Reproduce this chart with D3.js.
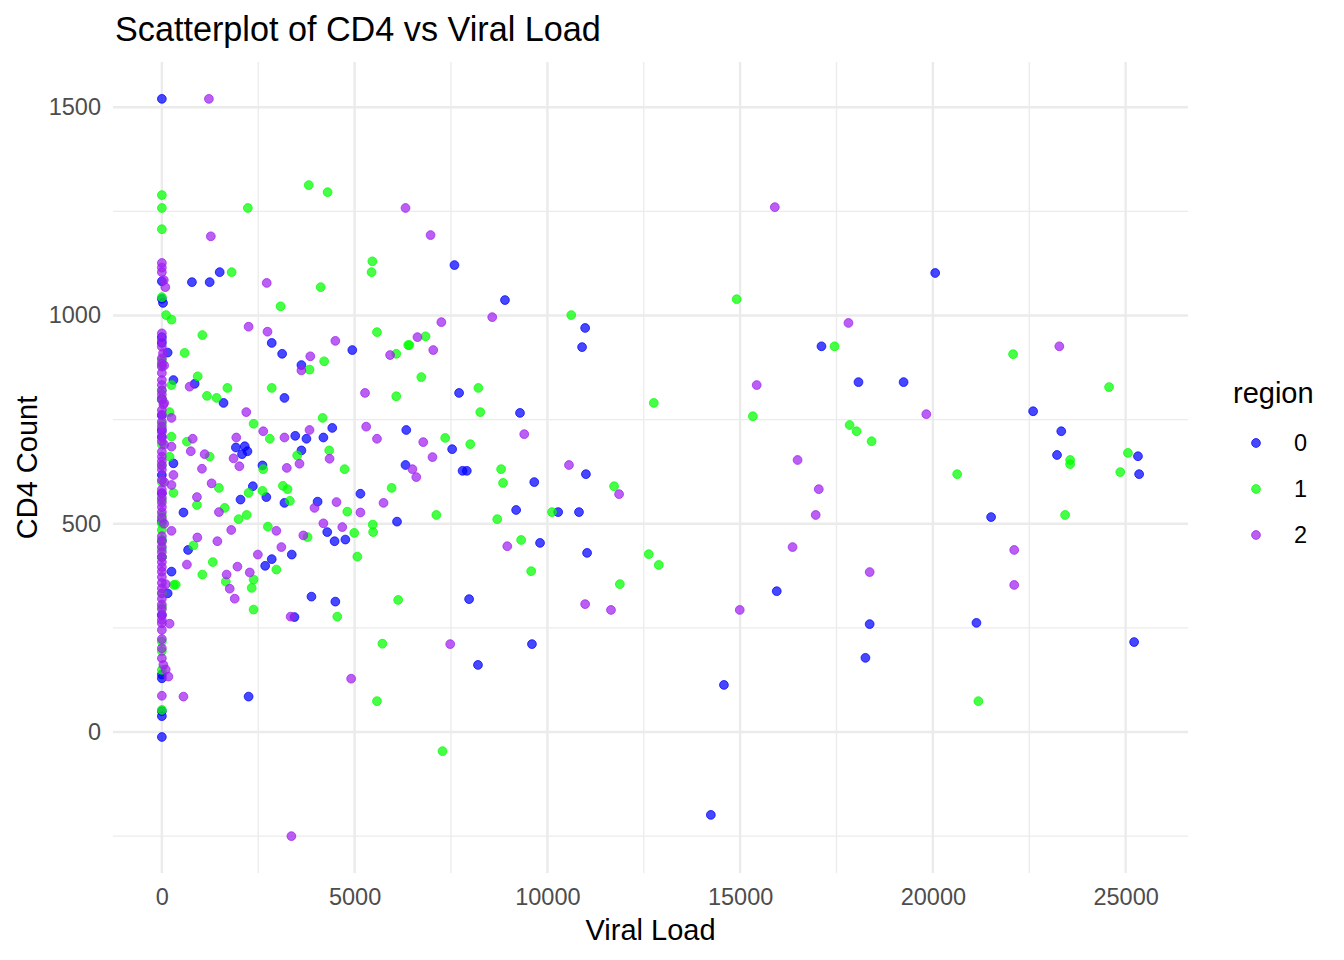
<!DOCTYPE html>
<html>
<head>
<meta charset="utf-8">
<script src="https://cdn.jsdelivr.net/npm/d3@7"></script>
<style>
body { margin: 0; background: #fff; }
text { font-family: "Liberation Sans", Arial, sans-serif; }
</style>
</head>
<body>
<svg id="chart" width="1344" height="960"></svg>
<script>
// legend / colours
var regions = ["0", "1", "2"];
var regionColors = ["#0000FF", "#00FF00", "#A020F0"];

// axis breaks
var xTicks = [0, 5000, 10000, 15000, 20000, 25000];
var yTicks = [0, 500, 1000, 1500];
var xMinor = [2500, 7500, 12500, 17500, 22500];
var yMinor = [-250, 250, 750, 1250];

// [viral load, cd4 count]
var region0 = [
  [0,1520],[0,1082],[0,1040],[30,1030],[0,948],[0,934],[150,911],[300,845],[0,800],[0,760],
  [0,725],[0,708],[300,645],[0,617],[0,573],[0,505],[0,460],[0,420],[250,385],[150,333],
  [0,280],[0,138],[0,129],[0,50],[0,38],[0,-12],
  [780,1080],[1240,1080],[1500,1104],[7590,1121],[8900,1037],[10980,970],[10900,924],[7710,814],
  [9290,766],[6340,725],[7530,679],[6320,641],[7800,627],[7910,627],[11000,619],[9660,600],
  [9190,533],[10280,528],[10820,528],[9810,454],[11030,430],[7970,319],[9600,211],[8200,161],
  [2850,934],[3120,908],[4940,917],[3620,881],[850,836],[1600,790],[3180,802],[3460,711],
  [3750,704],[4190,707],[4420,730],[1920,683],[2150,686],[2220,674],[2080,667],[3620,676],
  [2610,640],[2360,590],[2710,564],[2040,558],[3180,550],[4040,553],[5150,572],[560,527],
  [6100,505],[4290,480],[4480,458],[4760,462],[680,437],[2850,415],[2680,399],[3370,426],
  [3880,325],[4500,313],[3440,276],[2250,85],
  [20060,1102],[17110,926],[18070,840],[19240,840],[22600,770],[23330,722],[23220,665],
  [25320,662],[25350,619],[21510,516],[15950,338],[18360,259],[21130,262],[25220,216],
  [18250,178],[14580,113],[14240,-199]
];

var region1 = [
  [0,1289],[0,1258],[0,1207],[0,1044],[110,1001],[250,990],[0,893],[250,833],[0,820],[0,797],
  [200,768],[0,740],[250,709],[0,690],[200,661],[0,640],[300,574],[0,557],[0,520],[0,500],
  [0,485],[0,461],[0,440],[0,420],[310,353],[0,333],[0,300],[0,217],[0,194],[0,149],
  [0,53],[0,880],[0,600],
  [2230,1258],[3810,1313],[4300,1296],[1810,1104],[4120,1068],[5460,1130],[5440,1104],[3080,1022],
  [10620,1001],[6840,950],[6420,929],[6730,852],[8210,826],[8260,768],[12760,790],[7350,706],
  [8000,691],[8800,631],[8850,598],[11730,590],[7120,521],[8700,511],[10120,528],[9320,461],
  [12630,427],[12890,401],[9580,386],[11880,355],[6130,317],[7280,-46],
  [1050,953],[5580,960],[4210,890],[6080,908],[6390,929],[590,910],[3830,870],[930,854],
  [1700,826],[2850,826],[6080,806],[1170,807],[1420,802],[2380,740],[4170,754],[2800,704],
  [650,697],[1240,661],[3510,664],[4340,676],[2630,631],[4740,631],[1480,586],[2250,574],
  [2610,579],[3140,591],[3260,583],[3320,555],[5960,586],[4810,529],[5470,498],[5480,480],
  [910,545],[1630,538],[1990,511],[2200,521],[2750,493],[4990,478],[3780,468],[820,448],
  [2970,390],[5070,421],[1320,408],[1050,378],[2380,366],[1660,361],[2330,346],[2380,294],
  [4550,277],[5720,212],[5580,74],[360,354],
  [14910,1039],[17450,926],[22080,907],[24570,828],[15330,758],[17840,737],[18020,722],
  [18410,698],[23560,653],[23560,643],[25060,670],[24860,624],[20630,619],[23430,521],[21180,74]
];

var region2 = [
  [0,1126],[0,1115],[0,1104],[50,1085],[90,1068],[0,957],[0,940],[0,925],[30,909],[0,897],
  [0,885],[0,877],[0,862],[0,845],[0,833],[0,820],[0,810],[0,798],[40,786],[0,773],
  [0,762],[250,754],[0,745],[0,733],[0,720],[0,709],[0,698],[250,685],[0,673],[0,661],
  [0,650],[0,640],[0,630],[300,617],[0,605],[250,593],[0,582],[0,573],[0,562],[0,551],
  [0,540],[0,528],[0,514],[250,483],[0,470],[0,457],[0,445],[0,432],[0,420],[0,408],
  [0,396],[0,385],[0,372],[0,358],[0,345],[0,333],[0,320],[0,306],[0,295],[0,282],
  [0,269],[0,261],[0,245],[0,223],[0,201],[0,177],[40,161],[200,260],[170,133],[0,87],
  [100,150],[100,355],[60,690],[60,790],[60,880],[60,600],[60,500],
  [1220,1520],[1270,1190],[6320,1258],[6970,1193],[2720,1078],[8570,996],[7250,984],[6630,948],
  [7040,917],[6780,696],[9400,715],[7020,660],[6500,631],[6600,612],[10560,641],[11860,571],
  [8960,446],[10980,307],[11650,293],[7480,211],
  [2250,973],[2740,961],[4500,939],[3850,902],[5920,905],[3620,868],[720,829],[5270,814],
  [2190,768],[2630,722],[3180,707],[3830,725],[5300,733],[5580,704],[1930,707],[1860,657],
  [2010,638],[800,704],[750,674],[1110,667],[1040,632],[4350,656],[3240,634],[3570,644],
  [1290,597],[3960,538],[4530,552],[5750,550],[5150,527],[910,564],[1480,528],[1800,485],
  [2970,483],[4190,501],[4680,492],[3670,472],[1440,458],[920,467],[3100,444],[2490,426],
  [650,402],[1680,378],[1960,397],[2280,383],[1760,344],[1890,320],[3340,277],[4910,128],
  [560,85],[3360,-250],
  [15900,1260],[17810,982],[23280,926],[15430,833],[19830,763],[16490,653],[17040,583],
  [16960,521],[22110,437],[16360,444],[18360,384],[22110,353],[14990,293]
];

var series = [region0, region1, region2];

var panel = { left: 113, right: 1188, top: 62, bottom: 873 };

// ggplot style 5% expansion of the data range
function expand(ext) {
  var pad = (ext[1] - ext[0]) * 0.05;
  return [ext[0] - pad, ext[1] + pad];
}
var all = region0.concat(region1, region2);
var x = d3.scaleLinear()
  .domain(expand(d3.extent(all, d => d[0])))
  .range([panel.left, panel.right]);
var y = d3.scaleLinear()
  .domain(expand(d3.extent(all, d => d[1])))
  .range([panel.bottom, panel.top]);

var svg = d3.select("#chart");

// grid
var grid = svg.append("g");
grid.selectAll(".xminor").data(xMinor).enter().append("line")
  .attr("x1", d => x(d)).attr("x2", d => x(d))
  .attr("y1", panel.top).attr("y2", panel.bottom)
  .attr("stroke", "#EBEBEB").attr("stroke-width", 1.3);
grid.selectAll(".yminor").data(yMinor).enter().append("line")
  .attr("y1", d => y(d)).attr("y2", d => y(d))
  .attr("x1", panel.left).attr("x2", panel.right)
  .attr("stroke", "#EBEBEB").attr("stroke-width", 1.3);
grid.selectAll(".xmajor").data(xTicks).enter().append("line")
  .attr("x1", d => x(d)).attr("x2", d => x(d))
  .attr("y1", panel.top).attr("y2", panel.bottom)
  .attr("stroke", "#EBEBEB").attr("stroke-width", 2.4);
grid.selectAll(".ymajor").data(yTicks).enter().append("line")
  .attr("y1", d => y(d)).attr("y2", d => y(d))
  .attr("x1", panel.left).attr("x2", panel.right)
  .attr("stroke", "#EBEBEB").attr("stroke-width", 2.4);

// points (fill + same-colour rim, like ggplot's shape 19 with alpha)
series.forEach(function(pts, i) {
  svg.append("g").selectAll("circle").data(pts).enter().append("circle")
    .attr("cx", d => x(d[0]))
    .attr("cy", d => y(d[1]))
    .attr("r", 4.4)
    .attr("fill", regionColors[i])
    .attr("fill-opacity", 0.72)
    .attr("stroke", regionColors[i])
    .attr("stroke-opacity", 0.72)
    .attr("stroke-width", 1);
});

// axes
var xAxis = svg.append("g")
  .attr("transform", "translate(0," + panel.bottom + ")")
  .call(d3.axisBottom(x).tickValues(xTicks).tickFormat(d3.format("d")).tickSize(0).tickPadding(15));
var yAxis = svg.append("g")
  .attr("transform", "translate(" + panel.left + ",0)")
  .call(d3.axisLeft(y).tickValues(yTicks).tickFormat(d3.format("d")).tickSize(0).tickPadding(12));
[xAxis, yAxis].forEach(function(a) {
  a.select(".domain").remove();
  a.selectAll("text")
    .style("font-family", "'Liberation Sans', Arial, sans-serif")
    .style("font-size", "23.5px")
    .attr("fill", "#4D4D4D");
});

// titles
svg.append("text")
  .attr("x", 115).attr("y", 41)
  .style("font-size", "34.2px")
  .attr("fill", "#000")
  .text("Scatterplot of CD4 vs Viral Load");

svg.append("text")
  .attr("x", (panel.left + panel.right) / 2).attr("y", 940)
  .attr("text-anchor", "middle")
  .style("font-size", "29px")
  .text("Viral Load");

svg.append("text")
  .attr("transform", "translate(37," + ((panel.top + panel.bottom) / 2) + ") rotate(-90)")
  .attr("text-anchor", "middle")
  .style("font-size", "29px")
  .text("CD4 Count");

// legend
var legend = svg.append("g").attr("transform", "translate(1233,0)");
legend.append("text")
  .attr("x", 0).attr("y", 403)
  .style("font-size", "29px")
  .text("region");
var keyY = d3.scalePoint().domain(regions).range([443, 535]);
regions.forEach(function(r, i) {
  legend.append("circle")
    .attr("cx", 23).attr("cy", keyY(r)).attr("r", 4.4)
    .attr("fill", regionColors[i]).attr("fill-opacity", 0.72)
    .attr("stroke", regionColors[i]).attr("stroke-opacity", 0.72).attr("stroke-width", 1);
  legend.append("text")
    .attr("x", 61).attr("y", keyY(r)).attr("dy", "0.35em")
    .style("font-size", "23.5px")
    .text(r);
});
</script>
</body>
</html>
